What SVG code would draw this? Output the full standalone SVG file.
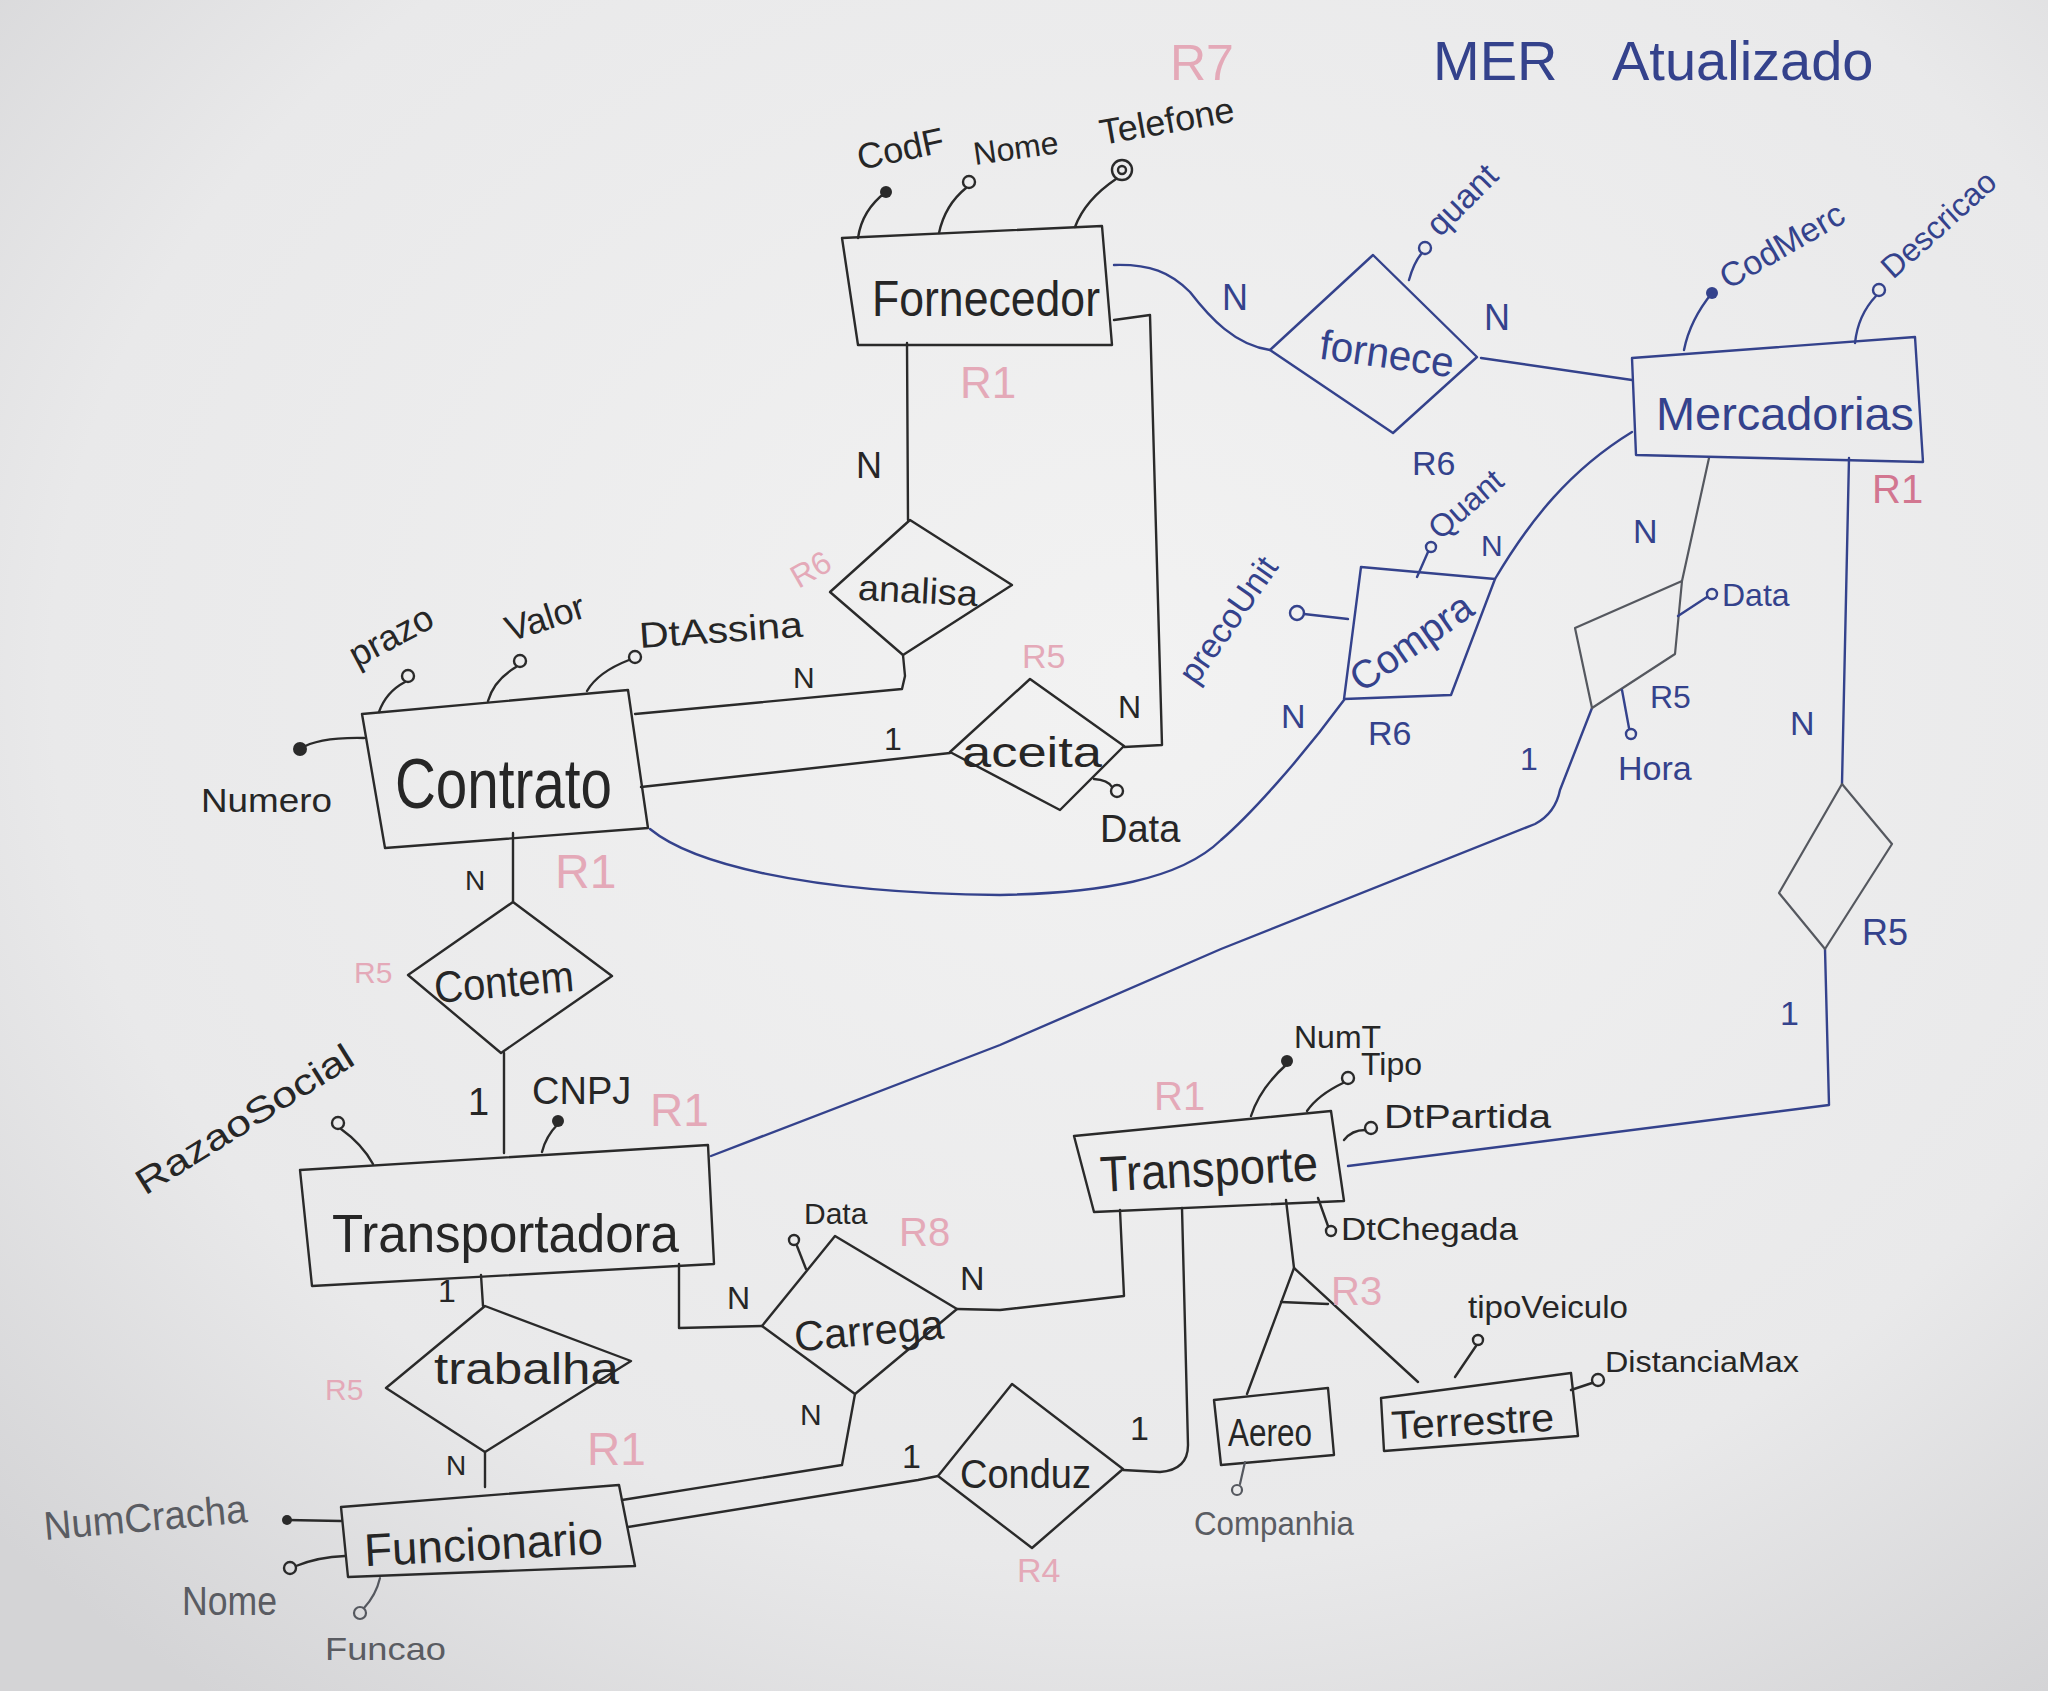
<svg xmlns="http://www.w3.org/2000/svg" width="2048" height="1691" viewBox="0 0 2048 1691">
<defs>
<radialGradient id="bg" cx="0.55" cy="0.4" r="0.75">
<stop offset="0" stop-color="#f2f2f2"/>
<stop offset="0.7" stop-color="#e9e9ea"/>
<stop offset="1" stop-color="#d4d4d6"/>
</radialGradient>
</defs>
<style>
.k{stroke:#2a2a2a;fill:none;stroke-width:2.4;stroke-linecap:round;stroke-linejoin:round}
.b{stroke:#34428c;fill:none;stroke-width:2.4;stroke-linecap:round;stroke-linejoin:round}
.g{stroke:#55585f;fill:none;stroke-width:2.2;stroke-linecap:round;stroke-linejoin:round}
.kf{fill:#2a2a2a}
.t{font-family:"Liberation Sans","DejaVu Sans",sans-serif;fill:#262626}
.tb{font-family:"Liberation Sans","DejaVu Sans",sans-serif;fill:#34428c}
.tg{font-family:"Liberation Sans","DejaVu Sans",sans-serif;fill:#5a5c62}
.tp{font-family:"Liberation Sans","DejaVu Sans",sans-serif;fill:#e4a9b8}
.tr{font-family:"Liberation Sans","DejaVu Sans",sans-serif;fill:#d27690}
</style>
<rect width="2048" height="1691" fill="url(#bg)"/>

<g id="title">
<text class="tb" x="1433" y="80" font-size="56">MER <tspan x="1612">Atualizado</tspan></text>
<text class="tp" x="1170" y="80" font-size="50">R7</text>
</g>

<g id="connectors">
<path class="b" d="M1114,265 C1150,264 1170,272 1190,292 C1210,318 1235,345 1270,350"/>
<path class="b" d="M1481,358 L1632,380"/>
<path class="k" d="M907,343 L908,520"/>
<path class="k" d="M1114,320 L1150,315 L1162,745 L1124,747"/>
<path class="k" d="M635,714 L902,689 L905,676 L903,655"/>
<path class="k" d="M641,787 L950,753"/>
<path class="b" d="M650,829 C690,862 800,893 1000,895 C1100,893 1180,880 1221,840 C1250,815 1300,760 1344,700"/>
<path class="b" d="M1495,579 C1530,520 1570,470 1632,432"/>
<path class="g" d="M1709,458 L1682,581"/>
<path class="b" d="M711,1156 L1000,1045 L1221,949 L1535,824 C1552,815 1558,800 1560,790 L1592,708"/>
<path class="b" d="M1849,458 L1842,784"/>
<path class="b" d="M1825,949 L1829,1105 L1348,1166"/>
<path class="k" d="M513,833 L513,902"/>
<path class="k" d="M504,1053 L504,1153"/>
<path class="k" d="M481,1275 L483,1306"/>
<path class="k" d="M485,1452 L485,1487"/>
<path class="k" d="M679,1264 L679,1328 L762,1326"/>
<path class="k" d="M957,1309 L1000,1310 L1124,1296 L1120,1210"/>
<path class="k" d="M622,1500 L842,1465 L855,1394"/>
<path class="k" d="M628,1527 L918,1480 L938,1476"/>
<path class="k" d="M1182,1208 L1188,1445 Q1188,1470 1160,1472 L1123,1470"/>
<path class="k" d="M1286,1200 L1294,1268 L1247,1394"/>
<path class="k" d="M1294,1268 L1418,1382"/>
<path class="k" d="M1281,1302 L1328,1304"/>
</g>

<g id="labels">
<text class="tb" x="1222" y="310" font-size="36">N</text>
<text class="tb" x="1484" y="330" font-size="36">N</text>
<text class="tb" x="1412" y="475" font-size="34">R6</text>
<text class="t" x="856" y="478" font-size="36">N</text>
<text class="tp" x="960" y="398" font-size="44">R1</text>
<text class="tp" x="788" y="580" font-size="32" transform="rotate(-30 810 565)">R6</text>
<text class="t" x="793" y="688" font-size="30">N</text>
<text class="t" x="884" y="750" font-size="32">1</text>
<text class="tp" x="1022" y="668" font-size="34">R5</text>
<text class="t" x="1118" y="718" font-size="32">N</text>
<text class="tb" x="1481" y="556" font-size="30">N</text>
<text class="tb" x="1281" y="728" font-size="34">N</text>
<text class="tb" x="1368" y="745" font-size="34">R6</text>
<text class="tb" x="1633" y="543" font-size="34">N</text>
<text class="tb" x="1650" y="708" font-size="32">R5</text>
<text class="tb" x="1520" y="770" font-size="32">1</text>
<text class="tr" x="1872" y="503" font-size="40">R1</text>
<text class="tb" x="1790" y="735" font-size="34">N</text>
<text class="tb" x="1862" y="945" font-size="36">R5</text>
<text class="tb" x="1780" y="1025" font-size="34">1</text>
<text class="t" x="465" y="890" font-size="28">N</text>
<text class="tp" x="555" y="888" font-size="48">R1</text>
<text class="tp" x="354" y="983" font-size="30">R5</text>
<text class="t" x="468" y="1115" font-size="38">1</text>
<text class="tp" x="650" y="1126" font-size="46">R1</text>
<text class="t" x="438" y="1302" font-size="32">1</text>
<text class="tp" x="325" y="1400" font-size="30">R5</text>
<text class="t" x="446" y="1475" font-size="28">N</text>
<text class="tp" x="587" y="1465" font-size="46">R1</text>
<text class="t" x="727" y="1309" font-size="32">N</text>
<text class="t" x="960" y="1290" font-size="34">N</text>
<text class="tp" x="899" y="1246" font-size="40">R8</text>
<text class="t" x="800" y="1425" font-size="30">N</text>
<text class="t" x="902" y="1468" font-size="34">1</text>
<text class="t" x="1130" y="1440" font-size="34">1</text>
<text class="tp" x="1017" y="1582" font-size="34">R4</text>
<text class="tp" x="1154" y="1110" font-size="40">R1</text>
<text class="tp" x="1331" y="1305" font-size="40">R3</text>
</g>

<g id="fornecedor">
<path class="k" d="M842,238 L1102,226 L1112,345 L858,345 Z"/>
<text class="t" x="872" y="316" font-size="50" textLength="228" lengthAdjust="spacingAndGlyphs">Fornecedor</text>
<circle cx="886" cy="192" r="6" class="kf"/>
<path class="k" d="M886,192 Q862,210 858,238"/>
<text class="t" x="860" y="170" font-size="36" transform="rotate(-12 860 170)">CodF</text>
<circle cx="969" cy="182" r="6" class="k"/>
<path class="k" d="M966,188 Q945,205 939,233"/>
<text class="t" x="975" y="165" font-size="32" transform="rotate(-8 975 165)">Nome</text>
<circle cx="1122" cy="170" r="10" class="k"/>
<circle cx="1122" cy="170" r="4" class="k"/>
<path class="k" d="M1116,179 Q1085,200 1075,227"/>
<text class="t" x="1102" y="145" font-size="36" transform="rotate(-10 1102 145)">Telefone</text>
</g>

<g id="fornece">
<path class="b" d="M1270,350 L1373,255 L1477,357 L1393,433 Z"/>
<text class="tb" x="1320" y="368" font-size="42" textLength="135" lengthAdjust="spacingAndGlyphs" transform="rotate(8 1387 350)">fornece</text>
<circle cx="1425" cy="248" r="6" class="b"/>
<path class="b" d="M1409,280 Q1414,262 1422,253"/>
<text class="tb" x="1440" y="238" font-size="34" transform="rotate(-45 1440 238)">quant</text>
</g>

<g id="mercadorias">
<path class="b" d="M1632,358 L1915,337 L1923,462 L1636,455 Z"/>
<text class="tb" x="1656" y="430" font-size="46" textLength="258" lengthAdjust="spacingAndGlyphs">Mercadorias</text>
<circle cx="1712" cy="293" r="6" fill="#34428c"/>
<path class="b" d="M1712,293 Q1690,320 1684,350"/>
<text class="tb" x="1728" y="290" font-size="34" transform="rotate(-30 1728 290)">CodMerc</text>
<circle cx="1879" cy="290" r="6" class="b"/>
<path class="b" d="M1876,296 Q1858,315 1855,343"/>
<text class="tb" x="1893" y="280" font-size="32" transform="rotate(-42 1893 280)">Descricao</text>
</g>

<g id="analisa">
<path class="k" d="M910,520 L1012,585 L903,655 L830,592 Z"/>
<text class="t" x="858" y="603" font-size="36" textLength="120" lengthAdjust="spacingAndGlyphs" transform="rotate(3 918 590)">analisa</text>
</g>

<g id="aceita">
<path class="k" d="M1030,679 L1124,746 L1060,810 L950,752 Z"/>
<text class="t" x="962" y="767" font-size="42" textLength="140" lengthAdjust="spacingAndGlyphs">aceita</text>
<circle cx="1117" cy="791" r="6" class="k"/>
<path class="k" d="M1094,779 Q1108,780 1112,787"/>
<text class="t" x="1100" y="842" font-size="38">Data</text>
</g>

<g id="contrato">
<path class="k" d="M362,714 L628,690 L648,828 L385,848 Z"/>
<text class="t" x="395" y="808" font-size="70" textLength="217" lengthAdjust="spacingAndGlyphs">Contrato</text>
<circle cx="300" cy="749" r="7" class="kf"/>
<path class="k" d="M300,749 Q318,737 364,738"/>
<text class="t" x="201" y="812" font-size="34" textLength="131" lengthAdjust="spacingAndGlyphs">Numero</text>
<circle cx="408" cy="676" r="6" class="k"/>
<path class="k" d="M405,682 Q386,692 379,712"/>
<text class="t" x="357" y="668" font-size="36" transform="rotate(-28 357 668)">prazo</text>
<circle cx="520" cy="661" r="6" class="k"/>
<path class="k" d="M516,667 Q494,680 488,701"/>
<text class="t" x="510" y="642" font-size="36" transform="rotate(-18 510 642)">Valor</text>
<circle cx="635" cy="657" r="6" class="k"/>
<path class="k" d="M629,660 Q598,672 587,691"/>
<text class="t" x="640" y="648" font-size="36" textLength="164" lengthAdjust="spacingAndGlyphs" transform="rotate(-4 640 648)">DtAssina</text>
</g>

<g id="compra">
<path class="b" d="M1361,567 L1495,579 L1451,695 L1344,699 Z"/>
<text class="tb" x="1341" y="656" font-size="40" textLength="140" lengthAdjust="spacingAndGlyphs" transform="rotate(-35 1411 642)">Compra</text>
<circle cx="1431" cy="547" r="5" class="b"/>
<path class="b" d="M1417,577 L1428,552"/>
<text class="tb" x="1440" y="541" font-size="32" transform="rotate(-41 1440 541)">Quant</text>
<circle cx="1297" cy="613" r="7" class="b"/>
<path class="b" d="M1304,614 L1348,619"/>
<text class="tb" x="1196" y="686" font-size="34" transform="rotate(-55 1196 686)">precoUnit</text>
</g>

<g id="data-hora">
<path class="g" d="M1575,628 L1682,581 L1675,654 L1592,708 Z"/>
<circle cx="1712" cy="594" r="5" class="b"/>
<path class="b" d="M1678,616 L1707,597"/>
<text class="tb" x="1722" y="606" font-size="32">Data</text>
<path class="b" d="M1622,690 L1629,728"/>
<circle cx="1631" cy="734" r="5" class="b"/>
<text class="tb" x="1618" y="780" font-size="34">Hora</text>
</g>

<g id="r5-diamond">
<path class="g" d="M1842,784 L1892,844 L1825,949 L1779,893 Z"/>
</g>

<g id="contem">
<path class="k" d="M513,902 L612,976 L501,1053 L408,975 Z"/>
<text class="t" x="434" y="997" font-size="44" textLength="140" lengthAdjust="spacingAndGlyphs" transform="rotate(-5 504 984)">Contem</text>
</g>

<g id="transportadora">
<path class="k" d="M300,1170 L708,1145 L714,1264 L312,1286 Z"/>
<text class="t" x="332" y="1252" font-size="54" textLength="347" lengthAdjust="spacingAndGlyphs">Transportadora</text>
<circle cx="558" cy="1121" r="6" class="kf"/>
<path class="k" d="M558,1124 Q546,1136 542,1152"/>
<text class="t" x="532" y="1104" font-size="38">CNPJ</text>
<circle cx="338" cy="1123" r="6" class="k"/>
<path class="k" d="M341,1129 Q362,1144 373,1164"/>
<text class="t" x="145" y="1196" font-size="36" textLength="250" lengthAdjust="spacingAndGlyphs" transform="rotate(-32 145 1196)">RazaoSocial</text>
</g>

<g id="trabalha">
<path class="k" d="M485,1306 L631,1361 L485,1452 L386,1388 Z"/>
<text class="t" x="434" y="1384" font-size="44" textLength="185" lengthAdjust="spacingAndGlyphs">trabalha</text>
</g>

<g id="funcionario">
<path class="k" d="M341,1507 L619,1485 L635,1566 L348,1577 Z"/>
<text class="t" x="364" y="1560" font-size="46" textLength="239" lengthAdjust="spacingAndGlyphs" transform="rotate(-3 483 1545)">Funcionario</text>
<circle cx="287" cy="1520" r="5" class="kf"/>
<path class="k" d="M287,1520 L341,1521"/>
<text class="tg" x="45" y="1540" font-size="40" textLength="204" lengthAdjust="spacingAndGlyphs" transform="rotate(-5 45 1540)">NumCracha</text>
<circle cx="290" cy="1568" r="6" class="k"/>
<path class="k" d="M296,1566 Q318,1557 345,1556"/>
<text class="tg" x="182" y="1615" font-size="40" textLength="95" lengthAdjust="spacingAndGlyphs">Nome</text>
<circle cx="360" cy="1613" r="6" class="g"/>
<path class="g" d="M364,1608 Q376,1595 380,1578"/>
<text class="tg" x="325" y="1660" font-size="32" textLength="121" lengthAdjust="spacingAndGlyphs">Funcao</text>
</g>

<g id="carrega">
<path class="k" d="M835,1236 L957,1309 L855,1394 L762,1326 Z"/>
<text class="t" x="794" y="1345" font-size="42" textLength="150" lengthAdjust="spacingAndGlyphs" transform="rotate(-5 869 1332)">Carrega</text>
<circle cx="794" cy="1240" r="5" class="k"/>
<path class="k" d="M797,1246 L806,1269"/>
<text class="t" x="804" y="1224" font-size="30">Data</text>
</g>

<g id="conduz">
<path class="k" d="M1012,1384 L1123,1469 L1032,1548 L938,1476 Z"/>
<text class="t" x="960" y="1488" font-size="40" textLength="131" lengthAdjust="spacingAndGlyphs">Conduz</text>
</g>

<g id="transporte">
<path class="k" d="M1074,1136 L1331,1111 L1344,1201 L1094,1212 Z"/>
<text class="t" x="1100" y="1186" font-size="50" textLength="218" lengthAdjust="spacingAndGlyphs" transform="rotate(-3 1209 1170)">Transporte</text>
<circle cx="1287" cy="1061" r="6" class="kf"/>
<path class="k" d="M1287,1064 Q1260,1088 1251,1116"/>
<text class="t" x="1294" y="1048" font-size="32">NumT</text>
<circle cx="1348" cy="1078" r="6" class="k"/>
<path class="k" d="M1343,1083 Q1318,1095 1307,1111"/>
<text class="t" x="1361" y="1075" font-size="32">Tipo</text>
<circle cx="1371" cy="1128" r="6" class="k"/>
<path class="k" d="M1365,1130 Q1352,1130 1344,1140"/>
<text class="t" x="1384" y="1128" font-size="34" textLength="167" lengthAdjust="spacingAndGlyphs">DtPartida</text>
<path class="k" d="M1318,1198 L1328,1226"/>
<circle cx="1331" cy="1231" r="5" class="k"/>
<text class="t" x="1341" y="1240" font-size="32" textLength="177" lengthAdjust="spacingAndGlyphs">DtChegada</text>
</g>

<g id="aereo">
<path class="k" d="M1214,1400 L1328,1388 L1334,1455 L1221,1465 Z"/>
<text class="t" x="1228" y="1446" font-size="38" textLength="84" lengthAdjust="spacingAndGlyphs">Aereo</text>
<circle cx="1237" cy="1490" r="5" class="g"/>
<path class="g" d="M1240,1484 L1245,1462"/>
<text class="tg" x="1194" y="1535" font-size="34" textLength="160" lengthAdjust="spacingAndGlyphs">Companhia</text>
</g>

<g id="terrestre">
<path class="k" d="M1381,1398 L1571,1373 L1578,1436 L1384,1451 Z"/>
<text class="t" x="1391" y="1435" font-size="40" textLength="163" lengthAdjust="spacingAndGlyphs" transform="rotate(-3 1474 1420)">Terrestre</text>
<circle cx="1478" cy="1340" r="5" class="k"/>
<path class="k" d="M1476,1346 L1455,1377"/>
<text class="t" x="1468" y="1318" font-size="32" textLength="160" lengthAdjust="spacingAndGlyphs">tipoVeiculo</text>
<circle cx="1598" cy="1380" r="6" class="k"/>
<path class="k" d="M1592,1383 L1571,1390"/>
<text class="t" x="1605" y="1372" font-size="30" textLength="194" lengthAdjust="spacingAndGlyphs">DistanciaMax</text>
</g>
</svg>
